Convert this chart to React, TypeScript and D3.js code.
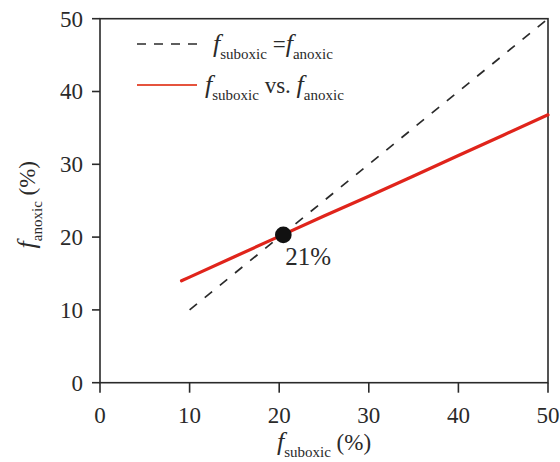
import React from "react";
import * as d3 from "d3";

// Fraction of suboxic vs. anoxic area (%)
const suboxicValues = [9.1, 10, 15, 20, 25, 30, 35, 40, 45, 50];
const anoxicValues = [14.0, 14.5, 17.3, 20.1, 22.9, 25.6, 28.4, 31.2, 34.0, 36.8];
const oneToOne = [10, 50];
const crossing = { x: 20.46, y: 20.3, label: "21%" };
const xTicks = [0, 10, 20, 30, 40, 50];
const yTicks = [0, 10, 20, 30, 40, 50];

const W = 560;
const H = 462;
const FONT = "Liberation Serif";
const INK = "#2a2a2a";
const RED = "#e0241b";

const x = d3.scaleLinear().domain([0, 50]).range([100, 548]);
const y = d3.scaleLinear().domain([0, 50]).range([382.7, 18.7]);

type Part = { t: string; kind: "f" | "sub" | "txt" };

// Text with italic "f" and lowered subscripts
function Label({ parts, ...rest }: { parts: Part[] } & React.SVGProps<SVGTextElement>) {
  return (
    <text fill={INK} style={{ fontFamily: FONT }} {...rest}>
      {parts.map((p, i) => {
        const prevSub = i > 0 && parts[i - 1].kind === "sub";
        if (p.kind === "f")
          return (
            <tspan key={i} fontStyle="italic" fontSize={26} dy={prevSub ? -7 : 0}>
              {p.t}
            </tspan>
          );
        if (p.kind === "sub")
          return (
            <tspan key={i} fontSize={15} dy={7}>
              {p.t}
            </tspan>
          );
        return (
          <tspan key={i} fontSize={23} dy={prevSub ? -7 : 0}>
            {p.t}
          </tspan>
        );
      })}
    </text>
  );
}

export default function App() {
  const line = d3
    .line<number>()
    .x((_, i) => x(suboxicValues[i]))
    .y((d) => y(d));

  return (
    <svg width={W} height={H} style={{ position: "absolute", left: 0, top: 0, background: "#fff" }}>
      {/* frame */}
      <rect
        x={x(0)}
        y={y(50)}
        width={x(50) - x(0)}
        height={y(0) - y(50)}
        fill="none"
        stroke={INK}
        strokeWidth={1.6}
      />

      {/* axes ticks and labels */}
      <g style={{ fontFamily: FONT }} fontSize={23} fill={INK}>
        {xTicks.map((t) => (
          <g key={t} transform={`translate(${x(t)},${y(0)})`}>
            <line y2={10} stroke={INK} strokeWidth={1.6} />
            <text y={40} textAnchor="middle">
              {t}
            </text>
          </g>
        ))}
        {yTicks.map((t) => (
          <g key={t} transform={`translate(${x(0)},${y(t)})`}>
            <line x2={-8} stroke={INK} strokeWidth={1.6} />
            <text x={-17} dy="0.34em" textAnchor="end">
              {t}
            </text>
          </g>
        ))}
      </g>

      {/* 1:1 reference line */}
      <line
        x1={x(oneToOne[0])}
        y1={y(oneToOne[0])}
        x2={x(oneToOne[1])}
        y2={y(oneToOne[1])}
        stroke={INK}
        strokeWidth={1.7}
        strokeDasharray="9.5,10"
      />

      {/* fitted relation */}
      <path
        d={line(anoxicValues) ?? ""}
        fill="none"
        stroke={RED}
        strokeWidth={3.2}
        strokeLinecap="round"
      />

      {/* crossing point */}
      <circle cx={x(crossing.x)} cy={y(crossing.y)} r={8.3} fill="#111" />
      <text
        x={x(crossing.x) + 2}
        y={y(crossing.y) + 30}
        fill={INK}
        fontSize={25}
        style={{ fontFamily: FONT }}
      >
        {crossing.label}
      </text>

      {/* legend */}
      <line x1={137} x2={197} y1={44} y2={44} stroke={INK} strokeWidth={1.6} strokeDasharray="9,8" />
      <line x1={137} x2={197} y1={85} y2={85} stroke="#e5533d" strokeWidth={1.8} />
      <Label
        x={213}
        y={52}
        parts={[
          { t: "f", kind: "f" },
          { t: "suboxic", kind: "sub" },
          { t: " =", kind: "txt" },
          { t: "f", kind: "f" },
          { t: "anoxic", kind: "sub" },
        ]}
      />
      <Label
        x={205}
        y={93}
        parts={[
          { t: "f", kind: "f" },
          { t: "suboxic", kind: "sub" },
          { t: " vs. ", kind: "txt" },
          { t: "f", kind: "f" },
          { t: "anoxic", kind: "sub" },
        ]}
      />

      {/* axis titles */}
      <Label
        x={(x(0) + x(50)) / 2}
        y={450}
        textAnchor="middle"
        parts={[
          { t: "f", kind: "f" },
          { t: "suboxic", kind: "sub" },
          { t: " (%)", kind: "txt" },
        ]}
      />
      <Label
        x={0}
        y={0}
        textAnchor="middle"
        transform={`translate(35,${(y(0) + y(50)) / 2 + 4}) rotate(-90)`}
        parts={[
          { t: "f", kind: "f" },
          { t: "anoxic", kind: "sub" },
          { t: " (%)", kind: "txt" },
        ]}
      />
    </svg>
  );
}
